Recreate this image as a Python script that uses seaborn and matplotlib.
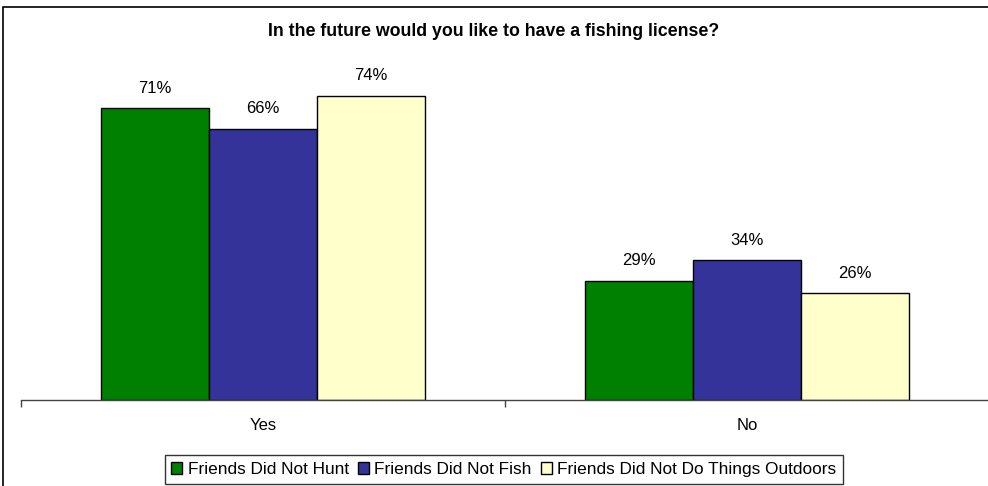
import matplotlib
matplotlib.use("Agg")
import matplotlib.pyplot as plt
from matplotlib.patches import Rectangle
import seaborn as sns
import pandas as pd

answers = ["Yes", "No"]
groups = ["Friends Did Not Hunt", "Friends Did Not Fish", "Friends Did Not Do Things Outdoors"]
hunt = [71, 29]
fish = [66, 34]
outdoors = [74, 26]
colors = ["#008000", "#333399", "#FFFFCC"]

df = pd.DataFrame({
    "answer": answers * 3,
    "group": [groups[0]] * 2 + [groups[1]] * 2 + [groups[2]] * 2,
    "pct": hunt + fish + outdoors,
})

sns.set_theme(style="white")
plt.rcParams["font.family"] = ["Liberation Sans", "DejaVu Sans"]
plt.rcParams["text.color"] = "black"

W, H = 988, 486
base_y = 400
fig = plt.figure(figsize=(W / 100, H / 100), dpi=100)
ax = fig.add_axes([21 / W, (H - base_y) / H, 968 / W, (base_y - 45) / H])

sns.barplot(data=df, x="answer", y="pct", hue="group", order=answers,
            hue_order=groups, palette=colors, width=0.67, gap=0,
            edgecolor="black", linewidth=1, saturation=1, ax=ax, legend=True)

for cont in ax.containers:
    ax.bar_label(cont, labels=[f"{v:.0f}%" for v in cont.datavalues],
                 padding=9, fontsize=12, color="black")

ax.set_ylim(0, 86.4)
ax.set_xlim(-0.5, 1.5)
ax.set_xlabel("")
ax.set_ylabel("")
ax.set_yticks([])
for s in ["top", "right", "left"]:
    ax.spines[s].set_visible(False)
ax.spines["bottom"].set_color("#444444")
ax.spines["bottom"].set_linewidth(1)
ax.set_xticks([-0.5, 0.5, 1.5], minor=True)
ax.tick_params(axis="x", which="minor", bottom=True, length=5, width=1,
               color="#444444", direction="out")
ax.tick_params(axis="x", which="major", bottom=False, length=0, pad=13,
               labelsize=12, labelcolor="black")

fig.text(0.5, (H - 32) / H, "In the future would you like to have a fishing license?",
         ha="center", va="center", fontsize=12.8, fontweight="bold", color="black")

handles, labels = ax.get_legend_handles_labels()
ax.get_legend().remove()
leg = fig.legend(handles, labels, loc="upper center", ncol=3,
                 bbox_to_anchor=(504 / W, (H - 455) / H), frameon=True,
                 fontsize=12.4, handlelength=0.64, handleheight=0.64,
                 handletextpad=0.3, columnspacing=0.55, borderpad=0.4,
                 fancybox=False, borderaxespad=0)
leg.get_frame().set_edgecolor("black")
leg.get_frame().set_linewidth(1)

fig.add_artist(Rectangle((3 / W, -0.1), 1.2, (H - 7) / H + 0.1,
                         transform=fig.transFigure, fill=False,
                         edgecolor="black", linewidth=1.2))

fig.savefig("out.png", dpi=100)
